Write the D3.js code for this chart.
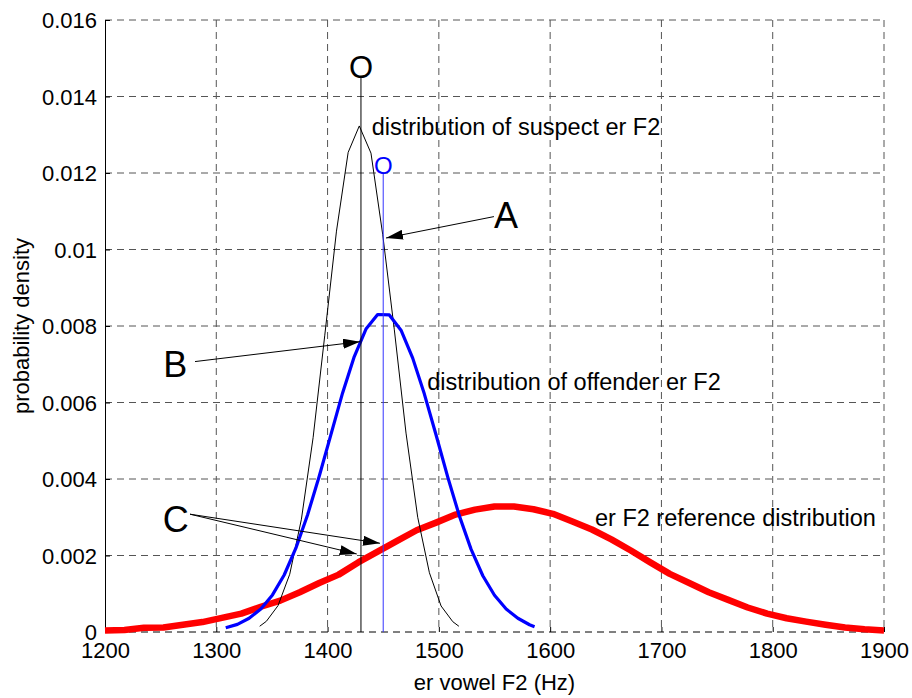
<!DOCTYPE html>
<html>
<head>
<meta charset="utf-8">
<script src="https://cdn.jsdelivr.net/npm/d3@7"></script>
<style>
  body { margin: 0; background: #fff; }
  text { font-family: "Liberation Sans", Arial, Helvetica, sans-serif; fill: #000; }
</style>
</head>
<body>
<svg id="chart" width="912" height="698"></svg>
<script>
// er vowel F2 (Hz) -> probability density

// suspect distribution (thin black)
var suspectF2 = [1339, 1345, 1355.5, 1366, 1376.5, 1387, 1397.5, 1408, 1418.5, 1428.5,
  1439, 1449.5, 1460, 1470.5, 1481, 1491.5, 1502, 1512.5, 1518];
var suspectDensity = [0.00015, 0.00028, 0.00069, 0.00151, 0.00295, 0.00508, 0.00776, 0.01048, 0.01254, 0.01323,
  0.01252, 0.01040, 0.00790, 0.00520, 0.00300, 0.00155, 0.00068, 0.00027, 0.00015];

// offender distribution (thick blue)
var offenderF2 = [1308.5, 1319, 1329.5, 1340, 1350.5, 1361, 1371.5, 1382, 1392.5, 1403, 1413.5, 1424, 1434.5,
  1445, 1455.5, 1466, 1476.5, 1487, 1497.5, 1508, 1518.5, 1529, 1539.5, 1550, 1560.5, 1571, 1581.5, 1586];
var offenderDensity = [0.00011, 0.00020, 0.00036, 0.00060, 0.00097, 0.00149, 0.00219, 0.00306, 0.00407, 0.00516,
  0.00625, 0.00720, 0.00792, 0.00830, 0.00829, 0.00789, 0.00716, 0.00622, 0.00515, 0.00405, 0.00303, 0.00216,
  0.00147, 0.00096, 0.00060, 0.00036, 0.00019, 0.00014];

// reference distribution (thick red)
var referenceF2 = [1200, 1217.5, 1235, 1252.5, 1270, 1287.5, 1305, 1322.5, 1340, 1357.5, 1375, 1392.5, 1410,
  1427.5, 1445, 1462.5, 1480, 1497.5, 1515, 1532.5, 1550, 1567.5, 1585, 1602.5, 1620, 1637.5, 1655, 1672.5,
  1690, 1707.5, 1725, 1742.5, 1760, 1777.5, 1795, 1812.5, 1830, 1847.5, 1865, 1882.5, 1900];
var referenceDensity = [0.00004, 0.00005, 0.00011, 0.00012, 0.00019, 0.00026, 0.00037, 0.00048, 0.00066, 0.00082,
  0.00104, 0.00128, 0.00150, 0.00182, 0.00210, 0.00238, 0.00266, 0.00286, 0.00307, 0.00320, 0.00328, 0.00328,
  0.00321, 0.00309, 0.00289, 0.00268, 0.00242, 0.00213, 0.00182, 0.00152, 0.00128, 0.00104, 0.00084, 0.00064,
  0.00048, 0.00036, 0.00027, 0.00019, 0.00012, 0.00007, 0.00004];

// stems: mean F2 and stem height
var stemF2 = [1430, 1450];
var stemTop = [0.0145, 0.012];

var xTicks = [1200, 1300, 1400, 1500, 1600, 1700, 1800, 1900];
var yTicks = [0, 0.002, 0.004, 0.006, 0.008, 0.01, 0.012, 0.014, 0.016];

var margin = {left: 105, top: 20, right: 28, bottom: 66};
var width = 912 - margin.left - margin.right;
var height = 698 - margin.top - margin.bottom;

var svg = d3.select('#chart');
var g = svg.append('g').attr('transform', 'translate(' + margin.left + ',' + margin.top + ')');

var x = d3.scaleLinear().domain([1200, 1900]).range([0, width]);
var y = d3.scaleLinear().domain([0, 0.016]).range([height, 0]);

// grid
g.append('g').selectAll('line').data(xTicks.slice(1)).join('line')
  .attr('x1', d => x(d)).attr('x2', d => x(d)).attr('y1', 0).attr('y2', height)
  .attr('stroke', '#555').attr('stroke-dasharray', '7,5');
g.append('g').selectAll('line').data(yTicks).join('line')
  .attr('x1', 0).attr('x2', width).attr('y1', d => y(d)).attr('y2', d => y(d))
  .attr('stroke', d => d === 0 ? '#000' : '#555').attr('stroke-dasharray', '7,5');

// axes
var xAxis = d3.axisBottom(x).tickValues(xTicks).tickSize(-5).tickPadding(10).tickFormat(d3.format('d'));
var yAxis = d3.axisLeft(y).tickValues(yTicks).tickSize(-5).tickPadding(8)
  .tickFormat(d => String(+d.toFixed(3)));

var gx = g.append('g').attr('transform', 'translate(0,' + height + ')').call(xAxis);
gx.select('.domain').remove();
gx.selectAll('text').attr('font-size', 22).attr('dy', '0.72em');

var gy = g.append('g').call(yAxis);
gy.select('.domain').attr('stroke', '#000');
gy.selectAll('text').attr('font-size', 22).attr('dy', '0.36em');

// curves
var line = d3.line().x(d => x(d[0])).y(d => y(d[1]));

g.append('path').datum(d3.zip(referenceF2, referenceDensity))
  .attr('d', line).attr('fill', 'none').attr('stroke', '#ff0000').attr('stroke-width', 6.5)
  .attr('stroke-linejoin', 'round');
g.append('path').datum(d3.zip(suspectF2, suspectDensity))
  .attr('d', line).attr('fill', 'none').attr('stroke', '#000').attr('stroke-width', 1);
g.append('path').datum(d3.zip(offenderF2, offenderDensity))
  .attr('d', line).attr('fill', 'none').attr('stroke', '#0000ff').attr('stroke-width', 3.2)
  .attr('stroke-linejoin', 'round');

// stems with O markers
var stemColor = ['#000', '#3333ff'];
var stemFont = [31, 24];
stemF2.forEach(function(f, i) {
  g.append('line')
    .attr('x1', x(f)).attr('x2', x(f)).attr('y1', y(0)).attr('y2', y(stemTop[i]))
    .attr('stroke', stemColor[i]).attr('stroke-width', 1);
  g.append('text').text('O')
    .attr('x', x(f)).attr('y', y(stemTop[i]) + 1)
    .attr('text-anchor', 'middle').attr('font-size', stemFont[i])
    .style('fill', i === 0 ? '#000' : '#0000ff');
});

// labels
var labels = [
  {t: 'distribution of suspect er F2', fx: 1439.6, fy: 0.0130, s: 23.5},
  {t: 'distribution of offender er F2', fx: 1489.6, fy: 0.00633, s: 23.5},
  {t: 'er F2 reference distribution', fx: 1640.3, fy: 0.00277, s: 23.5},
  {t: 'A', fx: 1549.5, fy: 0.01055, s: 36},
  {t: 'B', fx: 1252.4, fy: 0.00667, s: 36},
  {t: 'C', fx: 1251.8, fy: 0.00262, s: 36}
];
g.append('g').selectAll('text').data(labels).join('text')
  .attr('x', d => x(d.fx)).attr('y', d => y(d.fy))
  .attr('font-size', d => d.s).text(d => d.t);

// arrows
svg.append('defs').append('marker')
  .attr('id', 'head').attr('viewBox', '0 0 17 10').attr('refX', 17).attr('refY', 5)
  .attr('markerWidth', 17).attr('markerHeight', 10).attr('markerUnits', 'userSpaceOnUse')
  .attr('orient', 'auto')
  .append('path').attr('d', 'M0,0L17,5L0,10Z').attr('fill', '#000');

var arrows = [
  [[1549.5, 0.01086], [1452.5, 0.0103]],
  [[1280.9, 0.00707], [1429.1, 0.00759]],
  [[1276.4, 0.00308], [1447.1, 0.00232]],
  [[1276.4, 0.00308], [1426.2, 0.00204]]
];
g.append('g').selectAll('line').data(arrows).join('line')
  .attr('x1', d => x(d[0][0])).attr('y1', d => y(d[0][1]))
  .attr('x2', d => x(d[1][0])).attr('y2', d => y(d[1][1]))
  .attr('stroke', '#000').attr('stroke-width', 1).attr('marker-end', 'url(#head)');

// axis titles
svg.append('text').text('er vowel F2 (Hz)')
  .attr('x', margin.left + width / 2).attr('y', 690)
  .attr('text-anchor', 'middle').attr('font-size', 22);
svg.append('text').text('probability density')
  .attr('transform', 'translate(29,' + (margin.top + height / 2) + ') rotate(-90)')
  .attr('text-anchor', 'middle').attr('font-size', 22);
</script>
</body>
</html>
